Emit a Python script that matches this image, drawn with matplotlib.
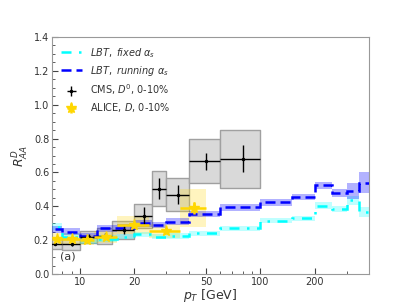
import numpy as np
from matplotlib import pyplot as plt
from matplotlib.ticker import FixedLocator, NullFormatter, MultipleLocator, FixedFormatter

# LBT model, binned
lbt_edges = [6, 8, 10, 12.5, 16, 20, 25, 30, 40, 60, 100, 150, 200, 250, 300, 350, 400]
lbt_run = [0.265, 0.25, 0.225, 0.27, 0.275, 0.30, 0.29, 0.31, 0.355, 0.395, 0.425, 0.455, 0.525, 0.48, 0.49, 0.54]
lbt_run_err = [0.02, 0.02, 0.02, 0.02, 0.02, 0.02, 0.02, 0.02, 0.02, 0.02, 0.02, 0.02, 0.02, 0.025, 0.045, 0.06]
lbt_fix = [0.28, 0.22, 0.20, 0.21, 0.22, 0.235, 0.22, 0.225, 0.24, 0.27, 0.315, 0.33, 0.405, 0.385, 0.435, 0.365]
lbt_fix_err = [0.02, 0.02, 0.02, 0.02, 0.015, 0.015, 0.015, 0.015, 0.015, 0.015, 0.015, 0.015, 0.02, 0.02, 0.025, 0.03]

# CMS D0, 0-10%
cms_lo = [6, 8, 10, 12.5, 15, 20, 25, 30, 40, 60]
cms_hi = [8, 10, 12.5, 15, 20, 25, 30, 40, 60, 100]
cms_x = [7.3, 9, 11.2, 13.8, 17.5, 22.5, 27.5, 35, 50, 80]
cms_y = [0.18, 0.175, 0.22, 0.225, 0.26, 0.345, 0.505, 0.47, 0.665, 0.68]
cms_stat = [0.01, 0.01, 0.015, 0.02, 0.025, 0.05, 0.06, 0.055, 0.05, 0.08]
cms_syst = [0.03, 0.035, 0.035, 0.045, 0.055, 0.07, 0.105, 0.10, 0.13, 0.17]

# ALICE D, 0-10%
ali_lo = [7, 8, 10, 12, 16, 24, 36]
ali_hi = [8, 10, 12, 16, 24, 36, 50]
ali_x = [7.5, 9, 11, 14, 20, 30, 43]
ali_y = [0.21, 0.21, 0.20, 0.22, 0.29, 0.255, 0.39]
ali_stat = [0.01, 0.01, 0.01, 0.015, 0.02, 0.02, 0.035]
ali_syst = [0.03, 0.03, 0.03, 0.035, 0.055, 0.04, 0.11]

fig = plt.figure(figsize=(4.11, 3.08), dpi=100)
ax = fig.add_axes([0.1265, 0.110, 0.7715, 0.770])

# syst boxes
for lo, hi, y, s in zip(cms_lo, cms_hi, cms_y, cms_syst):
    ax.fill_between([lo, hi], [y - s, y - s], [y + s, y + s], facecolor='#d9d9d9',
                    edgecolor='#a0a0a0', linewidth=1, zorder=2)
for lo, hi, y, s in zip(ali_lo, ali_hi, ali_y, ali_syst):
    ax.fill_between([lo, hi], [y - s, y - s], [y + s, y + s], facecolor='gold',
                    alpha=0.25, linewidth=0, zorder=2)

run = np.array(lbt_run)
run_e = np.array(lbt_run_err)
fix = np.array(lbt_fix)
fix_e = np.array(lbt_fix_err)
ax.stairs(fix + fix_e, lbt_edges, baseline=fix - fix_e, fill=True, color='cyan', alpha=0.25, zorder=3)
ax.stairs(run + run_e, lbt_edges, baseline=run - run_e, fill=True, color='blue', alpha=0.3, zorder=3)
ax.stairs(fix, lbt_edges, baseline=None, color='cyan', linestyle=(0, (4, 3, 1, 3)), linewidth=1.8, zorder=4)
ax.stairs(run, lbt_edges, baseline=None, color='blue', linestyle=(0, (4, 2)), linewidth=1.8, zorder=4)

xerr_c = [np.array(cms_x) - np.array(cms_lo), np.array(cms_hi) - np.array(cms_x)]
ax.errorbar(cms_x, cms_y, xerr=xerr_c, yerr=cms_stat, fmt='.', color='black', ms=3,
            elinewidth=1, capsize=0, zorder=5)
xerr_a = [np.array(ali_x) - np.array(ali_lo), np.array(ali_hi) - np.array(ali_x)]
ax.errorbar(ali_x, ali_y, xerr=xerr_a, yerr=ali_stat, fmt='*', color='gold', ms=8,
            elinewidth=1.8, capsize=0, zorder=6)

# legend handles
h1, = ax.plot([], [], color='cyan', linestyle=(0, (4, 3, 1, 3)), linewidth=1.8)
h2, = ax.plot([], [], color='blue', linestyle=(0, (4, 2)), linewidth=1.8)
h3 = ax.errorbar([], [], xerr=[], yerr=[], fmt='.', color='black', ms=3, elinewidth=1)
h4 = ax.errorbar([], [], xerr=[], yerr=[], fmt='*', color='gold', ms=8, elinewidth=1.8)
ax.legend([h1, h2, h3, h4],
          [r'$LBT,\ fixed\ \alpha_s$', r'$LBT,\ running\ \alpha_s$',
           r'CMS, $D^0$, 0-10%', r'ALICE, $D$, 0-10%'],
          loc='upper left', frameon=False, fontsize=7, handlelength=2.2,
          labelspacing=0.45, borderaxespad=0.5, labelcolor='#333333')

ax.text(0.025, 0.06, '(a)', transform=ax.transAxes, fontsize=8, color='#333333')

ax.set_xscale('log')
ax.set_xlim(7, 400)
ax.set_ylim(0, 1.4)
ax.xaxis.set_major_locator(FixedLocator([10, 20, 50, 100, 200]))
ax.xaxis.set_major_formatter(FixedFormatter(['10', '20', '50', '100', '200']))
ax.xaxis.set_minor_locator(FixedLocator([7, 8, 9, 30, 40, 60, 70, 80, 90, 300, 400]))
ax.xaxis.set_minor_formatter(NullFormatter())
ax.yaxis.set_major_locator(MultipleLocator(0.2))
ax.yaxis.set_minor_locator(MultipleLocator(0.05))
ax.yaxis.set_major_formatter(plt.FormatStrFormatter('%.1f'))
ax.tick_params(which='both', direction='in', colors='#444444', labelsize=7,
               labelcolor='#333333', pad=2)
ax.tick_params(which='major', length=4)
ax.tick_params(which='minor', length=2)
for sp in ax.spines.values():
    sp.set_color('#999999')

ax.set_xlabel(r'$p_T$ [GeV]', fontsize=9, color='#333333', labelpad=0)
ax.set_ylabel(r'$R^D_{AA}$', fontsize=9, color='#333333', labelpad=2)

fig.savefig('out.png', dpi=100)
